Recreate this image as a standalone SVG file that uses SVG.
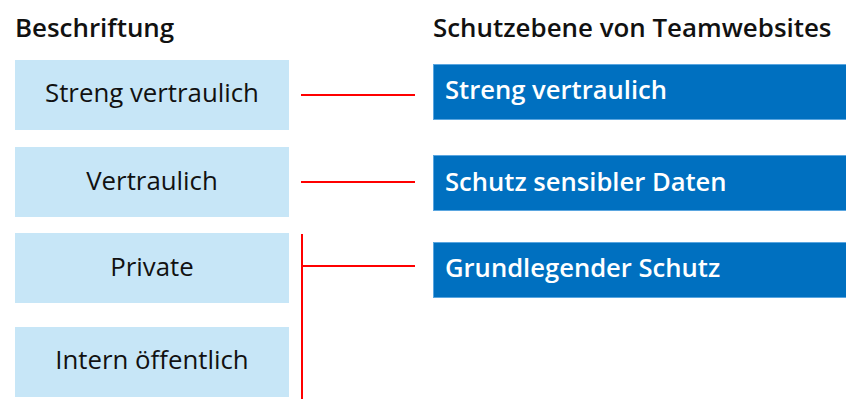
<svg xmlns="http://www.w3.org/2000/svg" width="846" height="400" viewBox="0 0 846 400">
  <style>
    .hdr { font-family: "Open Sans", "Noto Sans", sans-serif; font-weight: 600; font-size: 25.9px; fill: #111111; }
    .label rect { fill: #c7e6f7; }
    .label text { font-family: "Open Sans", "Noto Sans", sans-serif; font-size: 25.8px; fill: #111111; text-anchor: middle; }
    .level rect { fill: #0070c0; stroke: #5aa6e0; stroke-width: 1; }
    .level text { font-family: "Open Sans", "Noto Sans", sans-serif; font-weight: 600; font-size: 25.6px; fill: #ffffff; }
    .conn { stroke: #ff0000; stroke-width: 2; fill: none; }
  </style>
  <rect width="846" height="400" fill="#ffffff"/>

  <text class="hdr" x="15" y="37">Beschriftung</text>
  <text class="hdr" x="433" y="37">Schutzebene von Teamwebsites</text>

  <g id="label-streng" class="label">
    <rect x="15" y="60" width="274" height="70"/>
    <text x="152" y="102">Streng vertraulich</text>
  </g>
  <g id="label-vertraulich" class="label">
    <rect x="15" y="147" width="274" height="70"/>
    <text x="152" y="190">Vertraulich</text>
  </g>
  <g id="label-private" class="label">
    <rect x="15" y="233" width="274" height="70"/>
    <text x="152" y="276">Private</text>
  </g>
  <g id="label-intern" class="label">
    <rect x="15" y="327" width="274" height="70"/>
    <text x="152" y="369">Intern öffentlich</text>
  </g>

  <g id="level-streng" class="level">
    <rect x="433.5" y="64.5" width="414" height="55"/>
    <text x="445" y="99">Streng vertraulich</text>
  </g>
  <g id="level-sensibel" class="level">
    <rect x="433.5" y="155.5" width="414" height="55"/>
    <text x="445" y="191">Schutz sensibler Daten</text>
  </g>
  <g id="level-basis" class="level">
    <rect x="433.5" y="242.5" width="414" height="55"/>
    <text x="445" y="277">Grundlegender Schutz</text>
  </g>

  <g id="connectors">
    <line class="conn" x1="301" y1="95" x2="415" y2="95"/>
    <line class="conn" x1="301" y1="182" x2="415" y2="182"/>
    <line class="conn" x1="302" y1="234" x2="302" y2="399"/>
    <line class="conn" x1="302" y1="266" x2="415" y2="266"/>
  </g>
</svg>
